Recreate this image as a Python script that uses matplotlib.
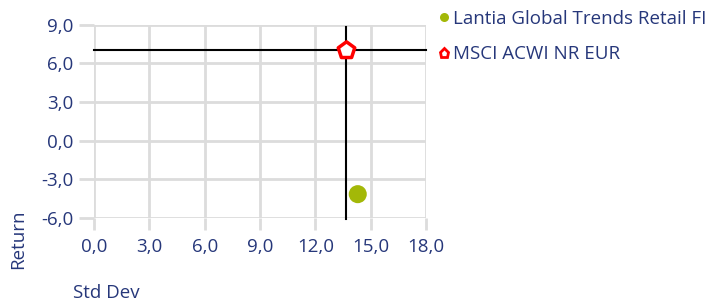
import matplotlib
matplotlib.use("Agg")
import matplotlib.pyplot as plt
from matplotlib.lines import Line2D

plt.rcParams['font.family'] = ['Open Sans', 'DejaVu Sans']

series_names = ["Lantia Global Trends Retail FI", "MSCI ACWI NR EUR"]
std_dev = [14.3, 13.65]
returns = [-4.15, 7.0]
x_ticks = [0, 3, 6, 9, 12, 15, 18]
y_ticks = [-6, -3, 0, 3, 6, 9]

navy = "#26377a"
green = "#a3b808"
red = "#ff0000"
grid = "#dcdcdc"
fs = 13.5

W, H = 717, 301
fig = plt.figure(figsize=(W / 100, H / 100), dpi=100)
ax = fig.add_axes([94 / W, 1 - 218 / H, 332 / W, (218 - 24.7) / H])
ax.set_xlim(0, 18)
ax.set_ylim(-6, 9)
ax.set_xticks(x_ticks)
ax.set_yticks(y_ticks)
fmt = lambda v: f"{v:.1f}".replace(".", ",")
ax.set_xticklabels([fmt(v) for v in x_ticks])
ax.set_yticklabels([fmt(v) for v in y_ticks])
for s in ax.spines.values():
    s.set_visible(False)
ax.grid(True, color=grid, linewidth=2, zorder=0)
ax.tick_params(axis='x', length=8.6, width=2, color=grid, pad=6, labelsize=fs, labelcolor=navy)
ax.tick_params(axis='y', length=10.8, width=2, color=grid, pad=4, labelsize=fs, labelcolor=navy)

# crosshair at benchmark
bx, by = std_dev[1], returns[1]
ax.plot([0, 18], [by, by], color="black", linewidth=1.5, zorder=2, clip_on=False)
ax.plot([bx, bx], [-6.05, 8.85], color="black", linewidth=1.5, zorder=2, clip_on=False)

ax.scatter([std_dev[0]], [returns[0]], s=13 ** 2, color=green, zorder=3, edgecolors='none')
ax.scatter([std_dev[1]], [returns[1]], s=12.5 ** 2, marker='p', facecolor='white',
           edgecolors=red, linewidths=2.5, zorder=3)

fig.text(18 / W, 1 - 269 / H, "Return", rotation=90, ha='center', va='bottom',
         color=navy, fontsize=fs)
fig.text(73 / W, 1 - 293 / H, "Std Dev", ha='left', va='center', color=navy, fontsize=fs)

handles = [
    Line2D([], [], linestyle='none', marker='o', markersize=6.5, color=green, markeredgewidth=0),
    Line2D([], [], linestyle='none', marker='p', markersize=6.5, markerfacecolor='white',
           markeredgecolor=red, markeredgewidth=2),
]
leg = fig.legend(handles, series_names, loc='upper left', bbox_to_anchor=(439 / W, 1 - 10 / H),
                 frameon=False, fontsize=fs, handlelength=0.5, handletextpad=0.25,
                 labelspacing=0.92, borderaxespad=0, borderpad=0)
for t in leg.get_texts():
    t.set_color(navy)

fig.savefig("out.png", dpi=100)
